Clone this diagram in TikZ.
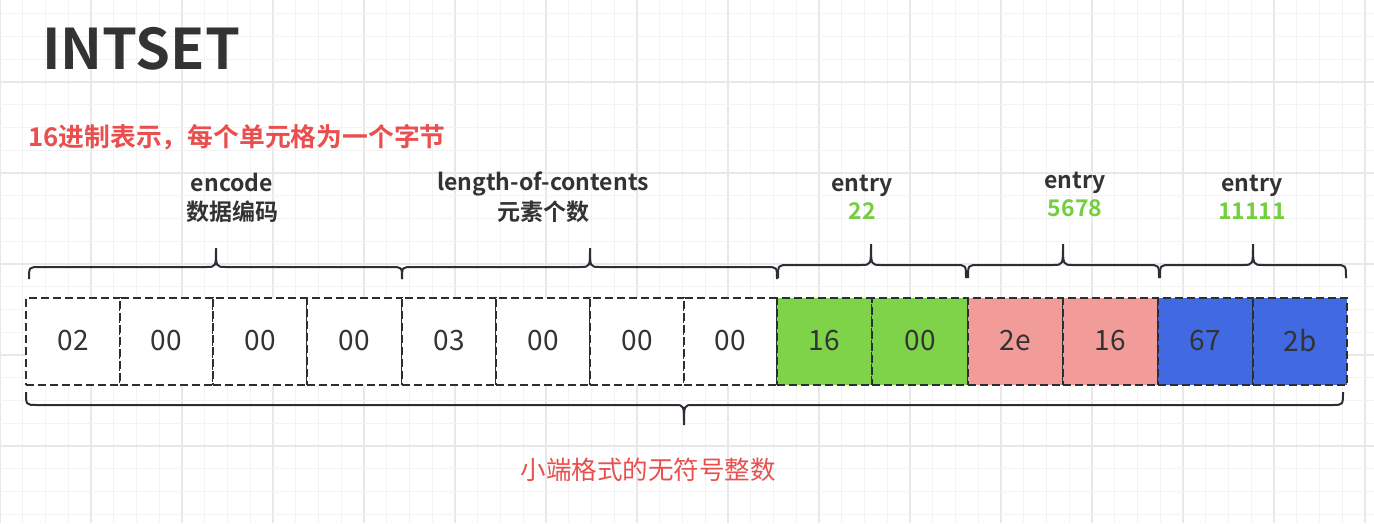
\documentclass[tikz,border=0pt]{standalone}
\usepackage{fontspec}
\setmainfont{Noto Sans CJK SC}[BoldFont={Noto Sans CJK SC Bold}]
\definecolor{txt}{HTML}{333333}
\definecolor{linec}{HTML}{2A2F36}
\definecolor{gfill}{HTML}{7ED348}
\definecolor{pfill}{HTML}{F19C99}
\definecolor{bfill}{HTML}{4169E1}
\definecolor{redt}{HTML}{EA4F4F}
\definecolor{greent}{HTML}{72D03E}
\definecolor{gridmin}{HTML}{F3F3F3}
\definecolor{gridmaj}{HTML}{E8E8E8}
\tikzset{
  cellbox/.style={draw=linec, line width=2pt, dash pattern=on 8pt off 4pt, inner sep=0pt,
    minimum height=87pt, text=txt, font=\fontsize{28}{30}\selectfont},
  bracec/.style={draw=linec, line width=2pt},
  lbl/.style={text=txt, font=\bfseries\fontsize{23}{25}\selectfont, anchor=base},
  lblg/.style={text=greent, font=\bfseries\fontsize{23}{25}\selectfont, anchor=base},
}
\newcommand\mybrace[6]{%
  \draw[bracec] (#1,#4) .. controls (#1,#5) .. (#1+11,#5) -- (#3-10,#5)
    .. controls (#3,#5) and (#3,#5) .. (#3,#6) .. controls (#3,#5) and (#3,#5) .. (#3+10,#5)
    -- (#2-11,#5) .. controls (#2,#5) .. (#2,#4);}
\begin{document}
\begin{tikzpicture}[x=1pt,y=-1pt]
\useasboundingbox (0,0) rectangle (1374,523);
\fill[white] (0,0) rectangle (1374,523);
% grid
\foreach \i in {0,...,60} {
  \pgfmathsetmacro\gx{22.75*\i}
  \pgfmathtruncatemacro\m{mod(\i,4)}
  \ifnum\m=0 \draw[gridmaj, line width=1.2pt] (\gx,0) -- (\gx,523);
  \else \draw[gridmin, line width=1pt] (\gx,0) -- (\gx,523); \fi
}
\foreach \i in {0,...,24} {
  \pgfmathsetmacro\gy{-9+22.75*\i}
  \pgfmathtruncatemacro\m{mod(\i,4)}
  \ifnum\m=0 \draw[gridmaj, line width=1.2pt] (0,\gy) -- (1374,\gy);
  \else \draw[gridmin, line width=1pt] (0,\gy) -- (1374,\gy); \fi
}
% titles
\node[anchor=west, text=txt, font=\bfseries\fontsize{56}{60}\selectfont, inner sep=0pt] (title) at (42,49) {INTSET};
\node[anchor=west, text=redt, font=\bfseries\fontsize{25.8}{28}\selectfont, inner sep=0pt] (sub) at (28,137) {16进制表示，每个单元格为一个字节};
% cells
\foreach \l/\r/\t/\f/\n in {26/120/02/white/1, 120/213/00/white/2, 213/307/00/white/3, 307/402/00/white/4,
  402/496/03/white/5, 496/590/00/white/6, 590/684/00/white/7, 684/777/00/white/8,
  777/872/16/gfill/9, 872/968/00/gfill/10, 968/1063/2e/pfill/11, 1063/1158/16/pfill/12,
  1158/1253/67/bfill/13, 1253/1347/2b/bfill/14} {
  \pgfmathsetmacro\cx{(\l+\r)/2}
  \pgfmathsetmacro\w{\r-\l}
  \node[cellbox, fill=\f, minimum width=\w pt] (c\n) at (\cx,341) {\t};
}
% top braces
\mybrace{29}{402}{216}{279}{267}{248}
\mybrace{402}{777}{590}{279}{267}{248}
\mybrace{778}{966}{871}{278}{265}{244}
\mybrace{968}{1159}{1063}{278}{265}{244}
\mybrace{1160}{1346}{1253}{278}{265}{244}
% bottom brace
\draw[bracec] (26,392) .. controls (26,405) .. (37,405) -- (675,405)
  .. controls (684,405) and (684,405) .. (684,425) .. controls (684,405) and (684,405) .. (693,405)
  -- (1332,405) .. controls (1343,405) .. (1343,392);
% labels
\node[lbl] (l1a) at (232,191) {encode};
\node[lbl] (l1b) at (232,220) {数据编码};
\node[lbl] (l2a) at (543,190) {length-of-contents};
\node[lbl] (l2b) at (543,220) {元素个数};
\node[lbl] (l3a) at (862,191) {entry};
\node[lblg] (l3b) at (862,219) {22};
\node[lbl] (l4a) at (1075,188) {entry};
\node[lblg] (l4b) at (1075,216) {5678};
\node[lbl] (l5a) at (1252,191) {entry};
\node[lblg] (l5b) at (1252,219) {11111};
\node[text=redt, font=\fontsize{25.5}{27}\selectfont, anchor=base] (bot) at (648,479) {小端格式的无符号整数};
\end{tikzpicture}
\end{document}
